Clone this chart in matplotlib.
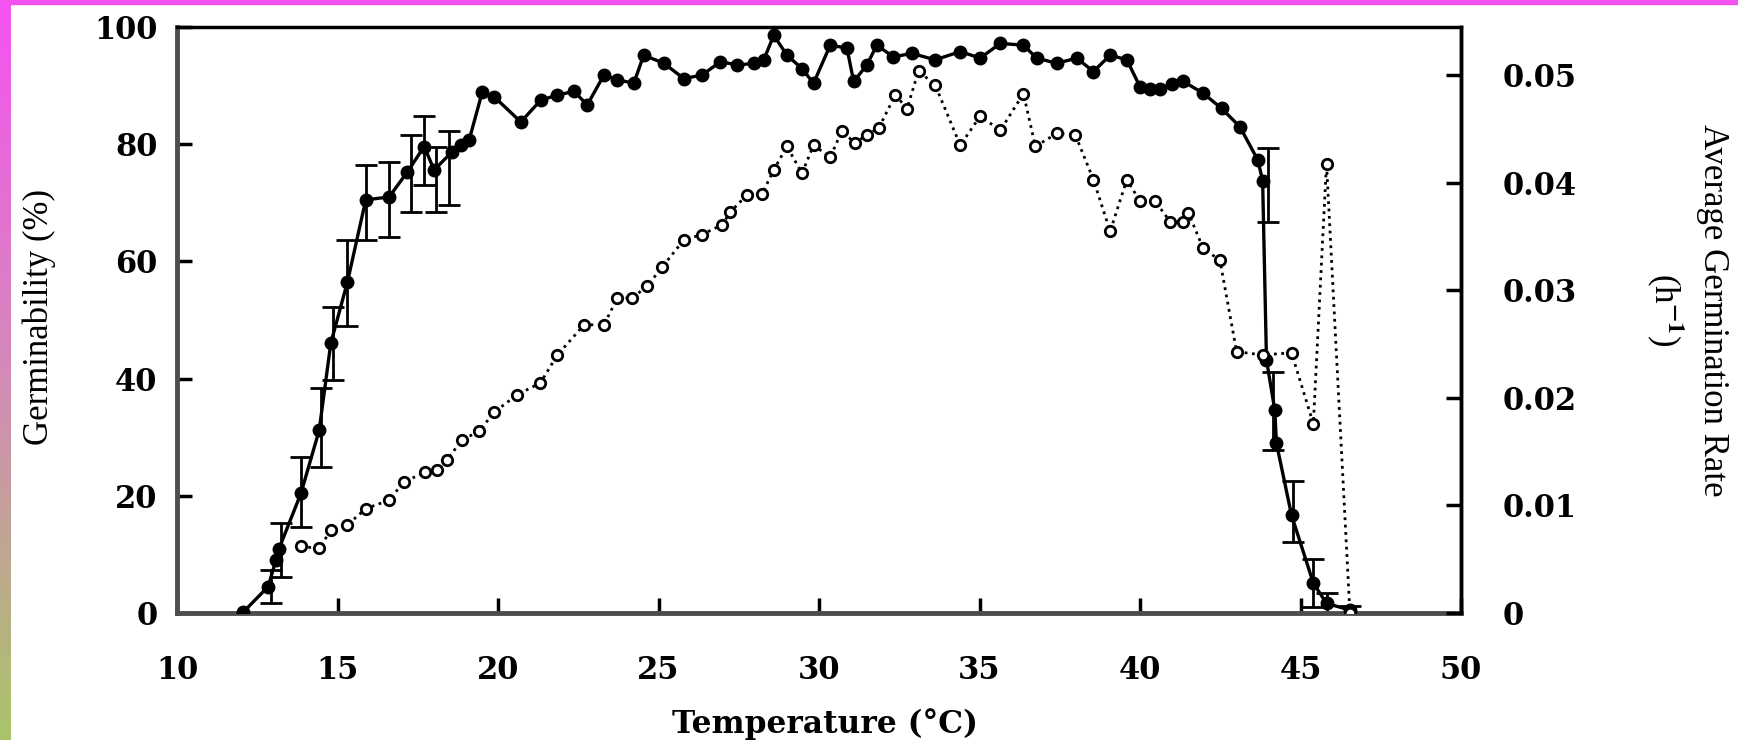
import matplotlib
matplotlib.use("Agg")
import matplotlib.pyplot as plt
import numpy as np
from matplotlib.colors import LinearSegmentedColormap
from matplotlib.patches import Rectangle

# germinability (%) - filled circles, solid line
temp_g = [12.07, 12.84, 13.08, 13.18, 13.86, 14.43, 14.79, 15.31, 15.88, 16.61,
          17.18, 17.70, 18.01, 18.57, 18.84, 19.10, 19.51, 19.88, 20.71, 21.33,
          21.85, 22.37, 22.78, 23.30, 23.72, 24.23, 24.54, 25.17, 25.79, 26.36,
          26.93, 27.45, 27.97, 28.28, 28.59, 29.00, 29.47, 29.83, 30.35, 30.87,
          31.08, 31.49, 31.80, 32.32, 32.89, 33.62, 34.40, 35.02, 35.65, 36.37,
          36.78, 37.41, 38.03, 38.55, 39.07, 39.59, 40.00, 40.30, 40.63, 41.00,
          41.35, 41.97, 42.54, 43.11, 43.67, 43.82, 43.94, 44.20, 44.25, 44.72,
          45.40, 45.81, 46.54]
germ = [0.2, 4.5, 9.0, 11.0, 20.4, 31.2, 46.0, 56.5, 70.5, 71.0,
        75.3, 79.6, 75.6, 78.7, 79.9, 80.7, 88.9, 88.1, 83.8, 87.5,
        88.4, 89.0, 86.7, 91.8, 91.0, 90.4, 95.2, 93.8, 91.2, 91.8,
        94.1, 93.5, 93.8, 94.4, 98.6, 95.2, 92.9, 90.4, 96.9, 96.4,
        90.7, 93.5, 96.9, 94.9, 95.5, 94.4, 95.8, 94.7, 97.2, 96.9,
        94.7, 93.8, 94.7, 92.4, 95.2, 94.4, 89.8, 89.5, 89.5, 90.3,
        90.7, 88.7, 86.1, 83.0, 77.3, 73.8, 43.2, 34.6, 29.0, 16.7,
        5.1, 1.65, 0.5]

# error bars on part of the germinability points
err_t = [12.93, 13.25, 13.86, 14.50, 14.85, 15.31, 15.88, 16.61, 17.28, 17.70,
         18.06, 18.47, 43.99, 44.13, 44.78, 45.40, 45.81, 46.54]
err_g = [4.5, 10.8, 20.7, 31.7, 46.0, 56.3, 70.1, 70.6, 75.0, 78.9,
         74.0, 75.9, 73.0, 34.5, 17.4, 5.1, 1.65, 0.5]
err_sd = [2.8, 4.6, 6.0, 6.7, 6.3, 7.4, 6.4, 6.4, 6.5, 5.9,
          5.5, 6.3, 6.3, 6.7, 5.2, 4.1, 1.8, 0.7]

# average germination rate (1/h) - open circles, dotted line
temp_r = [13.86, 14.43, 14.79, 15.31, 15.88, 16.61, 17.07, 17.74, 18.10, 18.40,
          18.88, 19.41, 19.89, 20.60, 21.32, 21.85, 22.68, 23.30, 23.72, 24.18,
          24.65, 25.12, 25.79, 26.36, 26.98, 27.24, 27.76, 28.23, 28.59, 29.00,
          29.47, 29.83, 30.35, 30.71, 31.13, 31.49, 31.86, 32.38, 32.74, 33.10,
          33.62, 34.40, 35.02, 35.65, 36.37, 36.74, 37.41, 37.98, 38.55, 39.07,
          39.59, 40.00, 40.47, 40.94, 41.35, 41.51, 41.97, 42.49, 43.01, 43.84,
          44.72, 45.40, 45.81, 46.54]
rate = [0.0062, 0.0060, 0.0077, 0.0082, 0.0097, 0.0105, 0.0122, 0.0131, 0.0133, 0.0142,
        0.0161, 0.0169, 0.0187, 0.0203, 0.0214, 0.0240, 0.0268, 0.0268, 0.0293, 0.0293,
        0.0304, 0.0322, 0.0347, 0.0352, 0.0361, 0.0373, 0.0389, 0.0390, 0.0412, 0.0434,
        0.0409, 0.0435, 0.0424, 0.0448, 0.0437, 0.0445, 0.0451, 0.0482, 0.0469, 0.0504,
        0.0491, 0.0435, 0.0462, 0.0449, 0.0483, 0.0434, 0.0446, 0.0445, 0.0403, 0.0355,
        0.0403, 0.0383, 0.0383, 0.0364, 0.0364, 0.0372, 0.0339, 0.0328, 0.0243, 0.0240,
        0.0242, 0.0176, 0.0418, 0.0]

x_ticks = [10, 15, 20, 25, 30, 35, 40, 45, 50]
g_ticks = [0, 20, 40, 60, 80, 100]
r_ticks = [0, 0.01, 0.02, 0.03, 0.04, 0.05]
r_tick_labels = ["0", "0.01", "0.02", "0.03", "0.04", "0.05"]

plt.rcParams["font.family"] = "DejaVu Serif"
plt.rcParams["font.weight"] = "bold"
plt.rcParams["mathtext.fontset"] = "stix"

W, H = 1738, 740
fig = plt.figure(figsize=(W / 100, H / 100), dpi=100)
fig.patch.set_facecolor("white")

# pink/olive frame bits on the left and top edge
cmap = LinearSegmentedColormap.from_list("edge", ["#f552f2", "#d48ab8", "#aac46a"])
strip = fig.add_axes([0, 0, 11 / W, 1])
strip.imshow(np.linspace(0, 1, 256).reshape(-1, 1), aspect="auto", cmap=cmap)
strip.axis("off")
fig.patches.append(Rectangle((0, 1 - 4 / H), 1, 4 / H, transform=fig.transFigure,
                             color="#f552f2", zorder=5))

ax = fig.add_axes([177 / W, 127 / H, 1284 / W, 586 / H])
ax2 = ax.twinx()

ax.plot(temp_g, germ, "-o", color="black", lw=2.4, ms=9, zorder=3)
ax.errorbar(err_t, err_g, yerr=err_sd, fmt="none", ecolor="black",
            elinewidth=2, capsize=8, capthick=2, zorder=2)
ax2.plot(temp_r, rate, ":o", color="black", lw=2, ms=7.5, mfc="white", mew=2)

ax.set_xlim(10, 50)
ax.set_ylim(0, 100)
ax.set_xticks(x_ticks)
ax.set_yticks(g_ticks)
ax2.set_ylim(0, 0.0545)
ax2.set_yticks(r_ticks)
ax2.set_yticklabels(r_tick_labels)

ax.tick_params(axis="x", direction="in", length=11, width=2.5, pad=30, labelsize=22)
ax.tick_params(axis="y", direction="in", length=11, width=2.5, pad=14, labelsize=22)
ax2.tick_params(axis="y", direction="in", length=11, width=2.5, pad=30, labelsize=22)

for s in ["left", "bottom"]:
    ax.spines[s].set_color("#4d4d4d")
    ax.spines[s].set_linewidth(3.5)
for s in ["top", "right"]:
    ax.spines[s].set_color("black")
    ax.spines[s].set_linewidth(2.5)
for s in ["left", "bottom", "top"]:
    ax2.spines[s].set_visible(False)
ax2.spines["right"].set_linewidth(2.5)

fig.text(39 / W, 1 - 317 / H, "Germinability (%)", rotation=90, ha="center",
         va="center", fontsize=25, fontweight="normal", family="Liberation Serif")
fig.text(1687 / W, 1 - 310 / H, "Average Germination Rate\n(h$^{-1}$)", rotation=270,
         ha="center", va="center", multialignment="center", fontsize=25,
         fontweight="normal", family="Liberation Serif", linespacing=1.3)
fig.text(825 / W, 1 - 724 / H, "Temperature (°C)", ha="center", va="center",
         fontsize=22.5, fontweight="bold")

fig.savefig("out.png", dpi=100)
